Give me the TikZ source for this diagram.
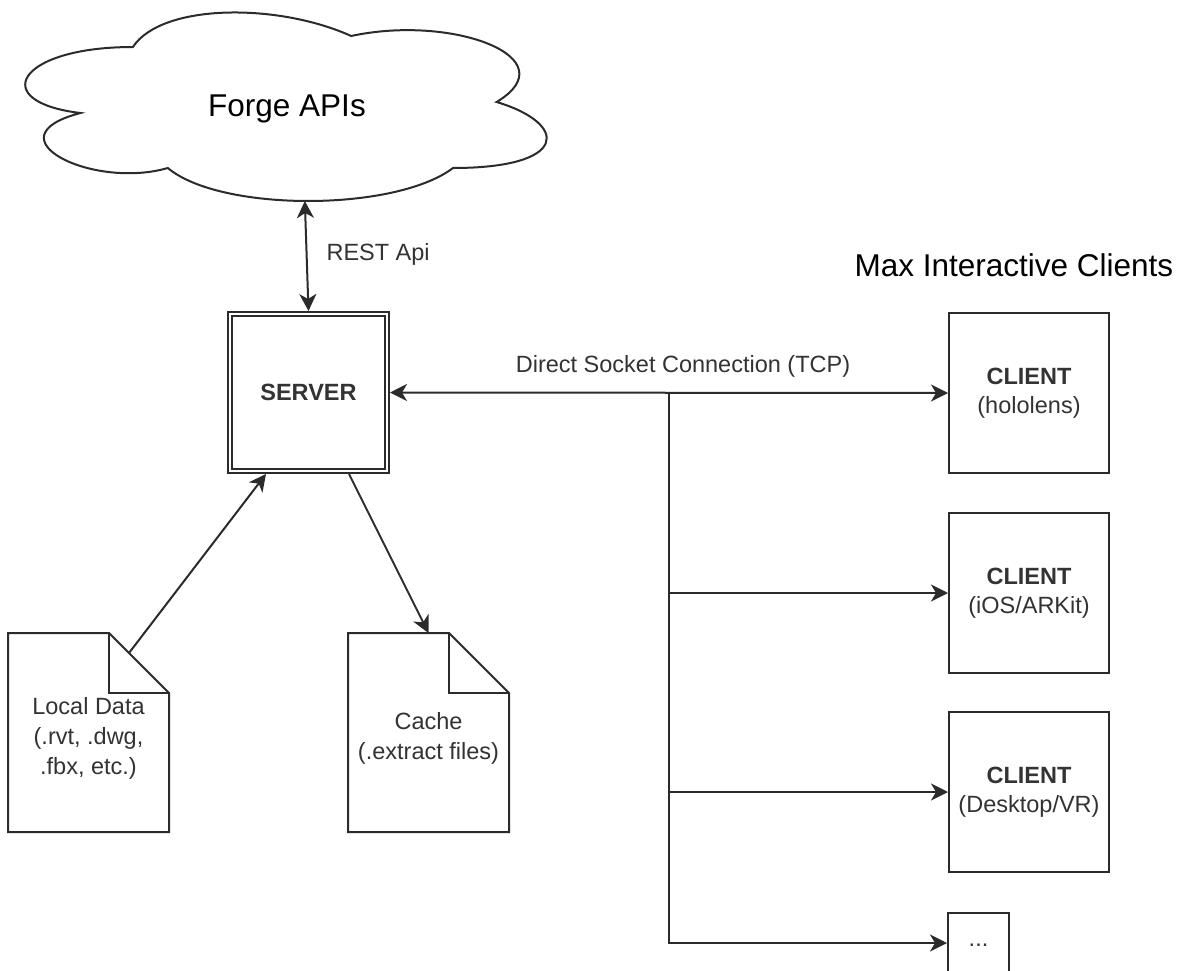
\documentclass[tikz,border=0pt]{standalone}
\usepackage{fontspec}
\setmainfont{Liberation Sans}
\usetikzlibrary{arrows.meta,calc}
\definecolor{linec}{HTML}{2B2B2B}
\definecolor{txtc}{HTML}{333333}
\tikzset{
  conn/.style={draw=linec, line width=2pt},
  oneway/.style={conn, -{Stealth[length=17pt,width=17pt,inset=5pt]}},
  twoway/.style={conn, {Stealth[length=17pt,width=17pt,inset=5pt]}-{Stealth[length=17pt,width=17pt,inset=5pt]}},
  smalltxt/.style={text=txtc, font=\fontsize{23.5}{29}\selectfont},
  bigtxt/.style={text=black, font=\fontsize{31.5}{38}\selectfont},
  boxnode/.style={draw=linec, line width=2pt, fill=white, minimum width=160pt, minimum height=160pt,
     inner sep=0pt, align=center, text=txtc, font=\fontsize{23.5}{29}\selectfont},
  docnode/.style={draw=none, minimum width=161pt, minimum height=199pt, inner sep=0pt, outer sep=0pt,
     align=center, text=txtc, font=\fontsize{23.5}{30}\selectfont}
}
\begin{document}
\begin{tikzpicture}[x=1pt,y=-1pt]
\clip (0,0) rectangle (1180,971);
\fill[white] (0,0) rectangle (1180,971);

% cloud (draw.io cloud shape), box x0=-12.6, y0=-8, w=582, h=220
\begin{scope}[shift={(-12.6,-8)}, x=582pt, y=-220pt]
\draw[conn, fill=white]
  (0.25,0.25) .. controls (0.05,0.25) and (0,0.5) .. (0.16,0.55)
  .. controls (0,0.66) and (0.18,0.9) .. (0.31,0.8)
  .. controls (0.4,1) and (0.7,1) .. (0.8,0.8)
  .. controls (1,0.8) and (1,0.6) .. (0.875,0.5)
  .. controls (1,0.3) and (0.8,0.1) .. (0.625,0.2)
  .. controls (0.5,0.05) and (0.3,0.05) .. (0.25,0.25) -- cycle;
\coordinate (cloudbot) at (0.5454,0.95);
\end{scope}
\node[bigtxt, anchor=base] (forge) at (287,117) {Forge APIs};

% server
\node[boxnode, minimum width=161pt, minimum height=161pt] (server) at (308.5,392.5) {};
\draw[linec, line width=2pt] ($(server.north west)+(5,5)$) rectangle ($(server.south east)+(-5,-5)$);
\node[smalltxt, font=\bfseries\fontsize{23.5}{29}\selectfont] (servertxt) at (server.center) {SERVER};

% REST
\draw[twoway] (cloudbot) -- (server.north);
\node[smalltxt, anchor=base west] (rest) at (323,260) {REST Api};

% documents
\node[docnode] (ld) at (88.5,738) {Local Data\\(.rvt, .dwg,\\.fbx, etc.)};
\node[docnode] (cache) at (428.5,738) {Cache\\(.extract files)};
\foreach \d in {ld,cache}{
  \draw[linec, line width=2pt, line join=miter]
    ($(\d.north west)+(0,-5.5)$) -- ($(\d.north east)+(-60,-5.5)$) -- ($(\d.north east)+(0,54.5)$)
    -- ($(\d.south east)+(0,-5.5)$) -- ($(\d.south west)+(0,-5.5)$) -- cycle;
  \draw[linec, line width=2pt]
    ($(\d.north east)+(-60,-5.5)$) -- ($(\d.north east)+(-60,54.5)$) -- ($(\d.north east)+(0,54.5)$);
}
\draw[oneway] ($(ld.north east)+(-40,14.5)$) -- ([xshift=39pt]server.south west);
\draw[oneway] ([xshift=122pt]server.south west) -- ($(cache.north)+(0,-5.5)$);

% clients
\node[bigtxt, anchor=base west] (maxlbl) at (851,276) {Max Interactive Clients};
\node[boxnode] (c1) at (1029,393) {\textbf{CLIENT}\\(hololens)};
\node[boxnode] (c2) at (1029,593) {\textbf{CLIENT}\\(iOS/ARKit)};
\node[boxnode] (c3) at (1029,792) {\textbf{CLIENT}\\(Desktop/VR)};
\node[boxnode, minimum width=61pt, minimum height=60pt] (dots) at (978.5,943) {\raisebox{-6pt}{...}};

\node[smalltxt, anchor=base] (dsc) at (683,372) {Direct Socket Connection (TCP)};
\draw[twoway] (server.east) -- (c1.west);
\coordinate (br) at (669,392.5);
\draw[oneway] (br) |- (c2.west);
\draw[oneway] (br) |- (c3.west);
\draw[oneway] (br) |- (dots.west);
\end{tikzpicture}
\end{document}
